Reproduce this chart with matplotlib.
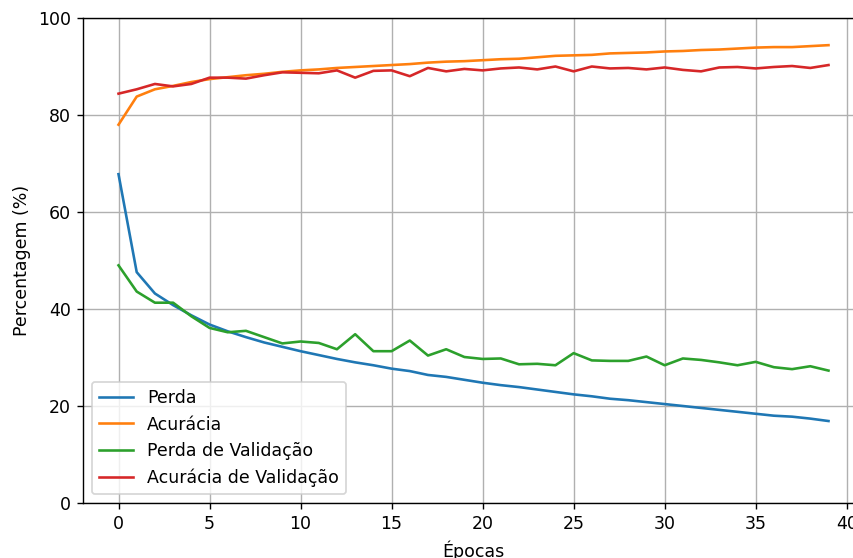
import matplotlib
matplotlib.use("Agg")
import matplotlib.pyplot as plt

epochs = list(range(40))

perda = [67.8, 47.6, 43.2, 40.8, 38.7, 36.8, 35.4, 34.2, 33.1, 32.2,
         31.3, 30.5, 29.7, 29.0, 28.4, 27.7, 27.2, 26.4, 26.0, 25.4,
         24.8, 24.3, 23.9, 23.4, 22.9, 22.4, 22.0, 21.5, 21.2, 20.8,
         20.4, 20.0, 19.6, 19.2, 18.8, 18.4, 18.0, 17.8, 17.4, 16.9]

acuracia = [78.0, 83.8, 85.3, 86.0, 86.8, 87.4, 87.8, 88.2, 88.5, 88.9,
            89.2, 89.4, 89.7, 89.9, 90.1, 90.3, 90.5, 90.8, 91.0, 91.1,
            91.3, 91.5, 91.6, 91.9, 92.2, 92.3, 92.4, 92.7, 92.8, 92.9,
            93.1, 93.2, 93.4, 93.5, 93.7, 93.9, 94.0, 94.0, 94.2, 94.4]

perda_val = [49.0, 43.6, 41.3, 41.3, 38.5, 36.1, 35.2, 35.5, 34.2, 32.9,
             33.3, 33.0, 31.7, 34.8, 31.3, 31.3, 33.5, 30.4, 31.7, 30.1,
             29.7, 29.8, 28.6, 28.7, 28.4, 30.9, 29.4, 29.3, 29.3, 30.2,
             28.4, 29.8, 29.5, 29.0, 28.4, 29.1, 28.0, 27.6, 28.2, 27.3]

acuracia_val = [84.4, 85.3, 86.4, 85.9, 86.4, 87.7, 87.7, 87.5, 88.2, 88.8,
                88.7, 88.6, 89.2, 87.7, 89.1, 89.2, 88.0, 89.7, 89.0, 89.5,
                89.2, 89.6, 89.8, 89.4, 90.0, 89.0, 90.0, 89.6, 89.7, 89.4,
                89.8, 89.3, 89.0, 89.8, 89.9, 89.6, 89.9, 90.1, 89.7, 90.3]

labels = ["Perda", "Acurácia", "Perda de Validação", "Acurácia de Validação"]

DPI = 125
fig = plt.figure(figsize=(853 / DPI, 558 / DPI), dpi=DPI)
ax = fig.add_axes([83/853, 1 - 503/558, (864 - 83)/853, (503 - 18)/558])

ax.plot(epochs, perda, color="#1f77b4", label=labels[0])
ax.plot(epochs, acuracia, color="#ff7f0e", label=labels[1])
ax.plot(epochs, perda_val, color="#2ca02c", label=labels[2])
ax.plot(epochs, acuracia_val, color="#d62728", label=labels[3])

ax.set_ylim(0, 100)
ax.set_xlabel("Épocas")
ax.set_ylabel("Percentagem (%)")
ax.grid(True)
ax.legend(loc="lower left")

fig.savefig("out.png", dpi=DPI)
